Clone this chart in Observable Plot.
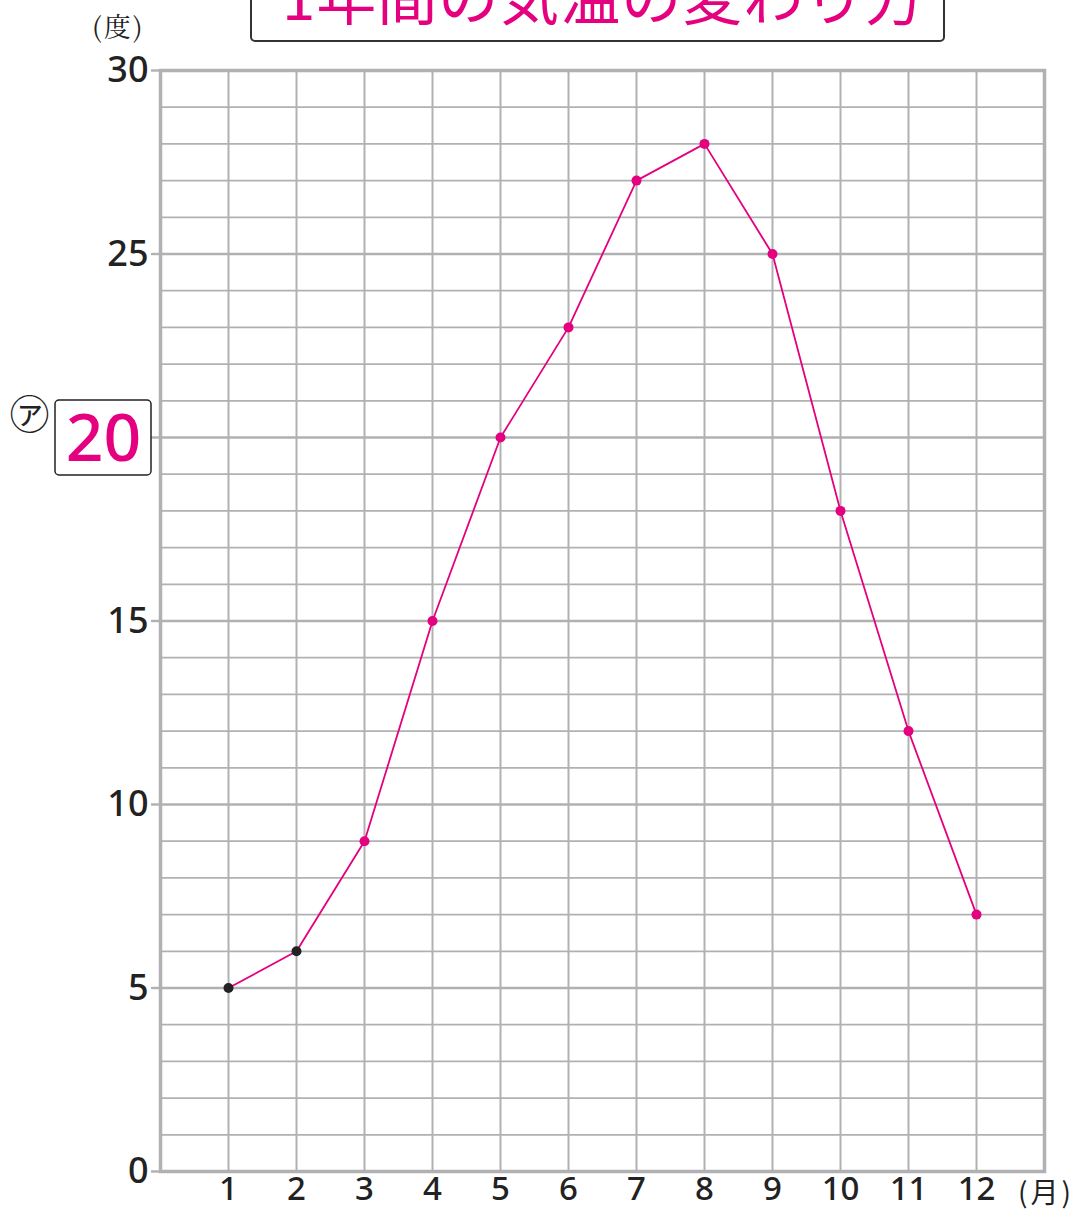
<!DOCTYPE html>
<html><head><meta charset="utf-8">
<script src="https://cdn.jsdelivr.net/npm/d3@7"></script>
<script src="https://cdn.jsdelivr.net/npm/@observablehq/plot@0.6"></script>
<style>
html,body{margin:0;padding:0;background:#fff;overflow:hidden;}
#wrap{position:relative;width:1081px;height:1213px;}
#title{position:absolute;left:250px;top:-40px;width:691px;height:78px;border:2px solid #333;border-radius:5px;box-sizing:content-box;overflow:hidden;}
#title span{position:absolute;left:30px;top:2px;font-family:"Noto Sans CJK JP";font-size:60px;line-height:60px;color:#e4007f;letter-spacing:1px;white-space:nowrap;font-weight:400;}
#unitY{position:absolute;left:92px;top:6px;font-family:"Noto Serif CJK JP","Noto Sans CJK JP",serif;font-size:27px;letter-spacing:2px;color:#222;}
#unitX{position:absolute;left:1018px;top:1174px;font-family:"Noto Sans CJK JP";font-size:28px;line-height:34px;letter-spacing:3px;color:#222;}
</style></head>
<body><div id="wrap">
<div id="chart"></div>
<div id="title"><span>1年間の気温の変わり方</span></div>
<div id="unitY">(度)</div>
<div id="unitX">(月)</div>
</div>
<script>
const months = [1,2,3,4,5,6,7,8,9,10,11,12];
const temps = [5,6,9,15,20,23,27,28,25,18,12,7];
const dotColors = ["#222","#222","#e4007f","#e4007f","#e4007f","#e4007f","#e4007f","#e4007f","#e4007f","#e4007f","#e4007f","#e4007f"];
const yTicks = [0,5,10,15,25,30];
const answerValue = 20;
const answerLabel = "20";
const degreeLines = d3.range(0, 31);
const magenta = "#e4007f";
const grid = "#b1b1b4";

const data = months.map((m,i)=>({m, t: temps[i], c: dotColors[i]}));

const chart = Plot.plot({
  width: 1081, height: 1213,
  marginLeft: 160, marginRight: 37, marginTop: 70, marginBottom: 42,
  x: {type: "linear", domain: [0, 13], axis: null},
  y: {type: "linear", domain: [0, 30], axis: null},
  style: {fontFamily: "'Noto Sans', Roboto, sans-serif", background: "#fff"},
  marks: [
    Plot.ruleY(degreeLines, {stroke: grid, strokeWidth: d => d % 5 === 0 ? 2.4 : 1.8}),
    Plot.ruleX(months, {stroke: grid, strokeWidth: 2}),
    Plot.frame({stroke: grid, strokeWidth: 3.5}),
    Plot.ruleY([...yTicks, answerValue], {x1: 0, x2: 0, stroke: grid, strokeWidth: 2.4, insetLeft: -9}),
    Plot.axisY(yTicks, {tickSize: 0, tickPadding: 12, fontSize: 36, fontWeight: 500, fill: "#222", label: null}),
    Plot.axisX(months, {tickSize: 0, tickPadding: 5, fontSize: 33, fontWeight: 500, fill: "#222", label: null, anchor: "bottom"}),
    Plot.rect([answerValue], {x1: 0, x2: 0, y1: d => d, y2: d => d, insetLeft: -105, insetRight: 9, insetTop: -37, insetBottom: -38, fill: "#fff", stroke: "#222", strokeWidth: 1.5, rx: 4}),
    Plot.text([answerValue], {x: 0, y: d => d, text: () => answerLabel, dx: -57, dy: 2, fontSize: 66, fontWeight: 500, fill: magenta, fontFamily: "'Noto Sans', sans-serif"}),
    Plot.text([answerValue], {x: 0, y: d => d, text: () => "㋐", dx: -131, dy: -21, fontSize: 40, fill: "#222", fontFamily: "'Noto Sans CJK JP'"}),
    Plot.line(data, {x: "m", y: "t", stroke: magenta, strokeWidth: 1.8}),
    Plot.dot(data, {x: "m", y: "t", r: 5, fill: "c", stroke: null})
  ]
});
document.getElementById("chart").appendChild(chart);
</script>
</body></html>
